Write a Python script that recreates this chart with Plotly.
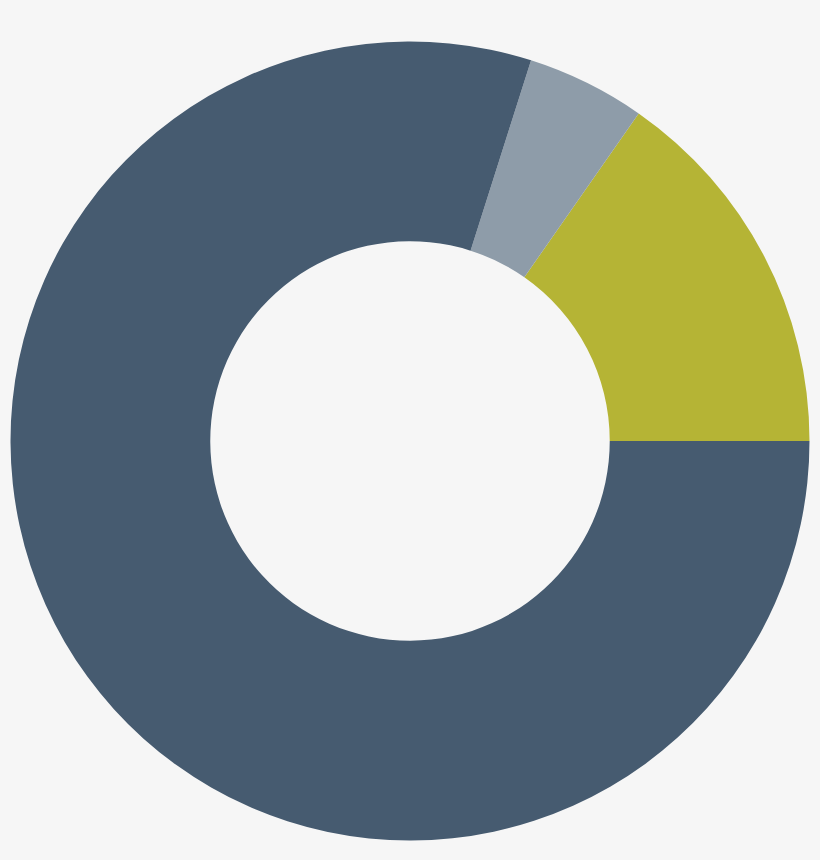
import plotly.graph_objects as go

labels = ["Segment A", "Segment B", "Segment C"]
values = [15.3, 4.8, 79.9]
colors = ["#b5b435", "#8e9ca9", "#465b70"]

start_deg = 0.0  # first slice starts at 3 o'clock
first_angle = values[0] / sum(values) * 360

fig = go.Figure(go.Pie(
    labels=labels,
    values=values,
    hole=0.5,
    sort=False,
    direction="counterclockwise",
    rotation=90 - start_deg - first_angle,
    marker=dict(colors=colors, line=dict(width=0)),
    textinfo="none",
    hoverinfo="label+percent",
    domain=dict(x=[10.5/820, 809.5/820], y=[1-840.5/860, 1-41.5/860]),
))
fig.update_layout(
    width=820, height=860,
    margin=dict(l=0, r=0, t=0, b=0),
    paper_bgcolor="#f6f6f6",
    plot_bgcolor="#f6f6f6",
    showlegend=False,
)
fig.write_html(
    "out.html",
    config={"displayModeBar": False},
    post_script="document.body.style.margin='0';document.body.style.background='#f6f6f6';",
)
